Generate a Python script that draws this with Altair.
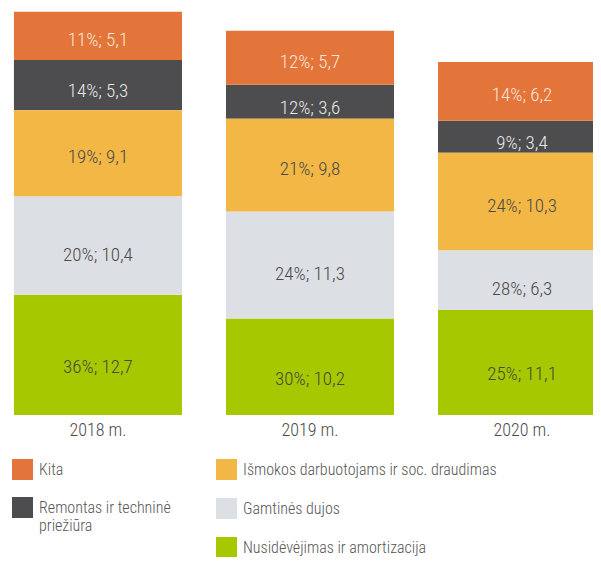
import altair as alt
import pandas as pd

years = ["2018 m.", "2019 m.", "2020 m."]
# stack order, bottom -> top
categories = [
    "Nusidėvėjimas ir amortizacija",
    "Gamtinės dujos",
    "Išmokos darbuotojams ir soc. draudimas",
    "Remontas ir techninė priežiūra",
    "Kita",
]
values = {
    "Nusidėvėjimas ir amortizacija": [12.7, 10.2, 11.1],
    "Gamtinės dujos": [10.4, 11.3, 6.3],
    "Išmokos darbuotojams ir soc. draudimas": [9.1, 9.8, 10.3],
    "Remontas ir techninė priežiūra": [5.3, 3.6, 3.4],
    "Kita": [5.1, 5.7, 6.2],
}
shares = {
    "Nusidėvėjimas ir amortizacija": [36, 30, 25],
    "Gamtinės dujos": [20, 24, 28],
    "Išmokos darbuotojams ir soc. draudimas": [19, 21, 24],
    "Remontas ir techninė priežiūra": [14, 12, 9],
    "Kita": [11, 12, 14],
}
bar_colors = {
    "Kita": "#e3753a",
    "Remontas ir techninė priežiūra": "#4d4d4f",
    "Išmokos darbuotojams ir soc. draudimas": "#f2b745",
    "Gamtinės dujos": "#dcdfe3",
    "Nusidėvėjimas ir amortizacija": "#a5c800",
}
text_colors = {
    "Kita": "#fbe6da",
    "Išmokos darbuotojams ir soc. draudimas": "#4a4a4a",
    "Remontas ir techninė priežiūra": "#e8e8e8",
    "Gamtinės dujos": "#4a4a4a",
    "Nusidėvėjimas ir amortizacija": "#464b35",
}
legend_left = ["Kita", "Remontas ir techninė priežiūra"]
legend_right = ["Išmokos darbuotojams ir soc. draudimas", "Gamtinės dujos",
                "Nusidėvėjimas ir amortizacija"]

rows = []
for ci, cat in enumerate(categories):
    for yi, yr in enumerate(years):
        v = values[cat][yi]
        rows.append({
            "year": yr,
            "cat": cat,
            "value": v,
            "ord": ci,
            "label": f"{shares[cat][yi]}%; " + f"{v:.1f}".replace(".", ","),
            "tcolor": text_colors[cat],
        })
df = pd.DataFrame(rows)

FONT = "'Roboto Condensed', 'Liberation Sans Narrow', Roboto, sans-serif"

x_enc = alt.X(
    "year:N",
    sort=years,
    scale=alt.Scale(range=[0, 604], paddingInner=0.2075, paddingOuter=0.028),
    axis=alt.Axis(title=None, domain=False, ticks=False, labelPadding=6,
                  labelFontSize=18, labelColor="#4d4d4d", labelFont=FONT,
                  labelFontWeight=300, labelAngle=0),
)
y_scale = alt.Scale(domain=[0, 43], nice=False)

base = alt.Chart(df).transform_stack(
    stack="value", groupby=["year"], sort=[alt.SortField("ord", order="ascending")],
    as_=["v0", "v1"],
).transform_calculate(
    mid="(datum.v0 + datum.v1) / 2"
)

legend_common = dict(
    title=None, orient="none", direction="vertical",
    symbolType="square", symbolSize=441, symbolStrokeWidth=0,
    labelFont=FONT, labelFontSize=16, labelFontWeight=300, labelColor="#555555",
    labelLimit=400, labelOffset=6, padding=0,
)


def bar_layer(cats, lx, rp):
    return base.transform_filter(
        alt.FieldOneOfPredicate(field="cat", oneOf=cats)
    ).mark_bar(clip=True).encode(
        x=x_enc,
        y=alt.Y("v0:Q", scale=y_scale, axis=None),
        y2="v1:Q",
        color=alt.Color(
            "cat:N",
            scale=alt.Scale(domain=cats, range=[bar_colors[c] for c in cats]),
            legend=alt.Legend(
                legendX=lx, legendY=451, rowPadding=rp,
                labelExpr="datum.label == 'Remontas ir techninė priežiūra' ? ['Remontas ir techninė', 'priežiūra'] : datum.label",
                **legend_common,
            ),
        ),
    )


bars_left = bar_layer(legend_left, 4, 17)
bars_right = bar_layer(legend_right, 208, 18)

label_dy = {
    "Kita": 4,
    "Remontas ir techninė priežiūra": 6,
    "Išmokos darbuotojams ir soc. draudimas": 4,
    "Gamtinės dujos": 9,
    "Nusidėvėjimas ir amortizacija": 12,
}
text_layers = []
for cat in categories:
    text_layers.append(
        base.transform_filter(alt.datum.cat == cat)
        .mark_text(font=FONT, fontSize=19, fontWeight=300, dy=label_dy[cat])
        .encode(
            x=x_enc,
            y=alt.Y("mid:Q", scale=y_scale, axis=None),
            text="label:N",
            fill=alt.Fill("tcolor:N", scale=None),
        )
    )

chart = alt.layer(bars_left, bars_right, *text_layers).resolve_scale(
    color="independent"
).properties(
    width=585, height=407,
    padding={"left": 0, "top": 0, "right": 0, "bottom": 142},
    autosize=alt.AutoSizeParams(type="none"),
).configure_view(stroke=None)

chart.save("out.html", embed_options={"renderer": "svg", "actions": False})
